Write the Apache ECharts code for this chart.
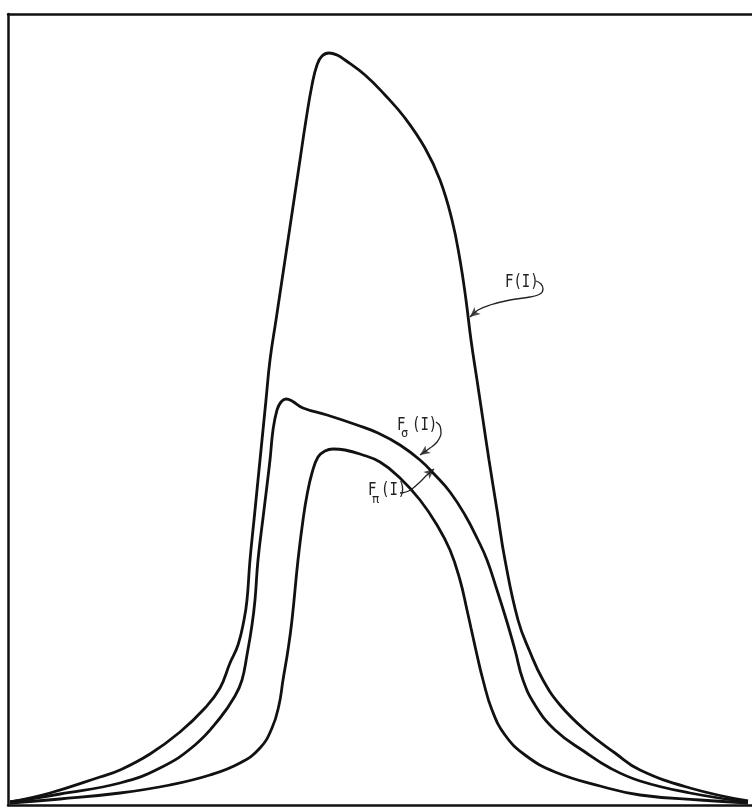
<!DOCTYPE html>
<html><head><meta charset="utf-8">
<script src="https://cdn.jsdelivr.net/npm/echarts@6/dist/echarts.min.js"></script>
<style>html,body{margin:0;padding:0;background:#fff}#c{width:752px;height:808px}</style>
</head><body><div id="c"></div>
<script>
// Curves: [x, intensity] in arbitrary chart units (x 0..744, y 0..791)
const curveF = [[2,3],[42,12],[92,28],[112,35],[142,51],[172,73],[197,97],[212,117],[222,142],[230,160],[236,185],[239,205],[242,245],[246,285],[250,325],[254,365],[258,405],[262,445],[268,485],[274,525],[280,565],[286,605],[292,645],[298,685],[304,720],[309,740],[314,749],[321,752],[329,750],[337,745],[357,730],[377,710],[397,687],[417,657],[432,625],[444,585],[452,545],[458,505],[463,465],[469,425],[475,385],[481,345],[489,295],[497,245],[510,185],[522,153],[535,125],[552,100],[577,75],[607,52],[632,35],[682,17],[740,4]];
const curveSigma = [[2,3],[52,11],[112,22],[152,37],[187,60],[212,87],[227,109],[234,125],[239,150],[244,180],[247,205],[250,245],[256,295],[262,345],[265,375],[269,395],[273,403],[278,406],[284,404],[295,397],[319,390],[349,380],[370,372],[392,360],[412,345],[427,330],[442,313],[457,290],[470,265],[479,245],[489,215],[499,183],[507,155],[515,125],[527,100],[547,75],[577,53],[602,37],[632,24],[682,12],[740,3]];
const curvePi = [[2,2],[52,6],[112,12],[162,20],[202,30],[232,42],[252,57],[264,77],[271,100],[275,125],[280,155],[284,185],[290,245],[295,285],[299,310],[304,332],[310,348],[317,354],[325,356],[337,355],[352,351],[372,343],[392,327],[412,305],[429,280],[442,255],[452,225],[459,195],[463,177],[469,150],[475,125],[484,95],[497,70],[517,50],[547,33],[592,19],[632,10],[692,5],[740,2]];

// Annotation arrows (chart units)
const arrowF = [[528,524],[533,521],[535,516],[532,511],[522,508],[502,505],[482,500],[470,495],[462,488]];
const arrowSigma = [[428,383],[432,379],[433,372],[429,363],[422,357],[412,350]];
const arrowPi = [[392,312],[398,313],[404,316],[412,323],[419,330],[426,336]];

// Labels: [text, x, y, kind]
const labels = [
  ['F(I)', 497, 523, 'main'],
  ['F', 389, 380, 'main'], ['σ', 393, 371, 'sub'], ['(I)', 404, 380, 'main'],
  ['F', 360, 315, 'main'], ['π', 364, 305, 'sub'], ['(I)', 373, 315, 'main']
];

const chart = echarts.init(document.getElementById('c'));
const axisCommon = {type:'value', axisTick:{show:false}, axisLabel:{show:false}, splitLine:{show:false},
  axisLine:{show:true, onZero:false, lineStyle:{color:'#111', width:2.5}}};
const lineSeries = (d) => ({type:'line', data:d, showSymbol:false, smooth:0.45,
  lineStyle:{color:'#111', width:2.8}, silent:true});
const arrowSeries = (d) => ({type:'line', data:d, showSymbol:false, smooth:0.4,
  lineStyle:{color:'#222', width:1.3}, silent:true});
const headSeries = (d) => {
  const a = d[d.length-2], b = d[d.length-1];
  const ang = Math.atan2(b[1]-a[1], b[0]-a[0]) * 180 / Math.PI;
  return {type:'scatter', data:[b], symbol:'arrow', symbolSize:[7,10], symbolRotate: ang - 90,
    itemStyle:{color:'#222'}, silent:true};
};
chart.setOption({
  animation:false,
  grid:{left:8, right:0, top:14, bottom:3},
  xAxis:[Object.assign({min:0, max:744, position:'bottom'}, axisCommon),
         Object.assign({min:0, max:744, position:'top'}, axisCommon)],
  yAxis:[Object.assign({min:0, max:791, position:'left'}, axisCommon)],
  series:[lineSeries(curveF), lineSeries(curveSigma), lineSeries(curvePi),
          arrowSeries(arrowF), arrowSeries(arrowSigma), arrowSeries(arrowPi),
          headSeries(arrowF), headSeries(arrowSigma), headSeries(arrowPi)]
});
const g = labels.map(([t,x,y,k]) => {
  const p = chart.convertToPixel({gridIndex:0}, [x,y]);
  return {type:'text', x:p[0], y:p[1], scaleY: k==='main'?1.3:1.0,
    style:{text:t, fill:'#222', align:'left', verticalAlign:'middle',
      font:(k==='main'?'14px':'12px')+' "DejaVu Sans Mono"'}};
});
chart.setOption({graphic:g});
</script></body></html>
